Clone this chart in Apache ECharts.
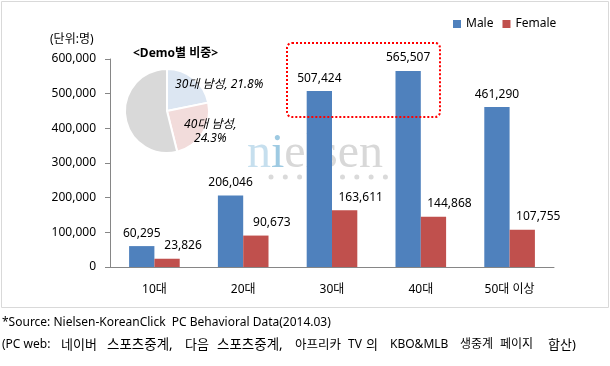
<!DOCTYPE html>
<html><head><meta charset="utf-8">
<script src="https://cdn.jsdelivr.net/npm/echarts@6/dist/echarts.min.js"></script>
<style>html,body{margin:0;padding:0;background:#fff}#c{width:610px;height:366px}</style>
</head><body><div id="c"></div>
<script>
const categories = ['10대','20대','30대','40대','50대 이상'];
const maleValues = [60295, 206046, 507424, 565507, 461290];
const femaleValues = [23826, 90673, 163611, 144868, 107755];
const pieNames = ['30대 남성','40대 남성','기타'];
const pieValues = [21.8, 24.3, 53.9];
const yTicks = [0, 100000, 200000, 300000, 400000, 500000, 600000];

const FONT = '"Noto Sans", "Noto Sans CJK KR", sans-serif';
const fmt = v => v.toLocaleString('en-US');
const pieColors = ['#dce6f2', '#f2dcdb', '#d9d9d9'];
const pieLabelStyle = [
  {show: true, position: 'inside', offset: [37, -8], align: 'center'},
  {show: true, position: 'inside', offset: [23, 8], align: 'left', lineHeight: 14},
  {show: false}
];

// footnote line 2 pieces with their x positions and sizes (layout only)
const noteParts = [
  ['(PC web:', 2, 12], ['네이버', 61, 13], ['스포츠중계,', 107, 13.5], ['다음', 185, 13], ['스포츠중계,', 217, 13.5],
  ['아프리카', 295, 12.5], ['TV', 348, 12], ['의', 366, 13], ['KBO&MLB', 390, 12], ['생중계', 460, 12], ['페이지', 500, 12], ['합산)', 548, 13]
];

const chart = echarts.init(document.getElementById('c'), null, {renderer: 'canvas'});
chart.setOption({
  animation: false,
  textStyle: {fontFamily: FONT},
  grid: {left: 110, right: 56, top: 59, bottom: 99},
  legend: {
    data: ['Male', 'Female'], left: 453, top: 18, padding: 0, itemWidth: 8, itemHeight: 8, itemGap: 9,
    icon: 'rect', textStyle: {fontSize: 12, color: '#000', fontFamily: FONT}
  },
  xAxis: {
    type: 'category', data: categories,
    axisLine: {lineStyle: {color: '#868686'}},
    axisTick: {length: 5, lineStyle: {color: '#868686'}},
    axisLabel: {color: '#000', fontSize: 12, margin: 17, fontFamily: FONT}
  },
  yAxis: {
    type: 'value', min: yTicks[0], max: yTicks[yTicks.length - 1], interval: yTicks[1] - yTicks[0],
    axisLine: {show: true, lineStyle: {color: '#868686'}},
    axisTick: {show: true, length: 5, lineStyle: {color: '#868686'}},
    splitLine: {show: false},
    axisLabel: {color: '#000', fontSize: 12, margin: 14, formatter: fmt, fontFamily: FONT}
  },
  series: [
    {
      name: 'Male', type: 'bar', data: maleValues, barGap: '0%', barCategoryGap: '43%',
      itemStyle: {color: '#4f81bd'}, z: 3,
      label: {show: true, position: 'top', distance: 7, color: '#000', fontSize: 12, fontFamily: FONT, formatter: p => fmt(p.value)}
    },
    {
      name: 'Female', type: 'bar', data: femaleValues,
      itemStyle: {color: '#c0504d'}, z: 3,
      label: {show: true, position: 'top', distance: 7, offset: [16, 0], color: '#000', fontSize: 12, fontFamily: FONT, formatter: p => fmt(p.value)}
    },
    {
      name: 'Demo', type: 'pie', center: [167, 111], radius: 42, startAngle: 90, clockwise: true,
      silent: true, emphasis: {disabled: true}, labelLine: {show: false},
      itemStyle: {borderColor: '#fff', borderWidth: 2},
      label: {fontSize: 12, fontStyle: 'italic', color: '#000', fontFamily: FONT},
      data: pieNames.map((n, i) => ({
        name: n, value: pieValues[i], itemStyle: {color: pieColors[i]},
        label: Object.assign({formatter: i === 1 ? '{b},\n{c}%' : '{b}, {c}%'}, pieLabelStyle[i])
      }))
    }
  ],
  graphic: [
    {type: 'rect', z: -10, shape: {x: 1.5, y: 1.5, width: 607, height: 306}, style: {fill: null, stroke: '#d9d9d9', lineWidth: 1}},
    {type: 'text', z: 10, left: 50, top: 34, style: {text: '(단위:명)', font: '12px ' + FONT, fill: '#000'}},
    {type: 'text', z: 10, left: 133, top: 48, style: {text: '<Demo별 비중>', font: 'bold 12px ' + FONT, fill: '#000'}},
    {type: 'text', z: -5, left: 247, top: 130, style: {
      text: '{a|n}{b|i}{c|elsen}',
      rich: {
        a: {font: '48px "Liberation Serif", serif', fill: '#c6dfee'},
        b: {font: '48px "Liberation Serif", serif', fill: '#9ecae2'},
        c: {font: '48px "Liberation Serif", serif', fill: '#d8d8d8'}
      }}},
    {type: 'group', z: -5, children: [0,1,2,3,4,5,6,7,8].map(k => ({
      type: 'circle', shape: {cx: 271 + k * 14.3, cy: 177, r: 2.5}, style: {fill: '#dadada'}
    }))},
    {type: 'rect', z: 20, shape: {x: 287, y: 43, width: 153, height: 74, r: 5},
      style: {fill: null, stroke: '#ff0000', lineWidth: 2, lineDash: [2, 2]}},
    {type: 'text', left: 2, top: 317, style: {text: '*Source: Nielsen-KoreanClick  PC Behavioral Data(2014.03)', font: '12px ' + FONT, fill: '#000'}}
  ].concat(noteParts.map(([t, x, s]) => ({
    type: 'text', x: x, y: 345, style: {text: t, font: s + 'px ' + FONT, fill: '#000', verticalAlign: 'middle'}
  })))
});
</script></body></html>
